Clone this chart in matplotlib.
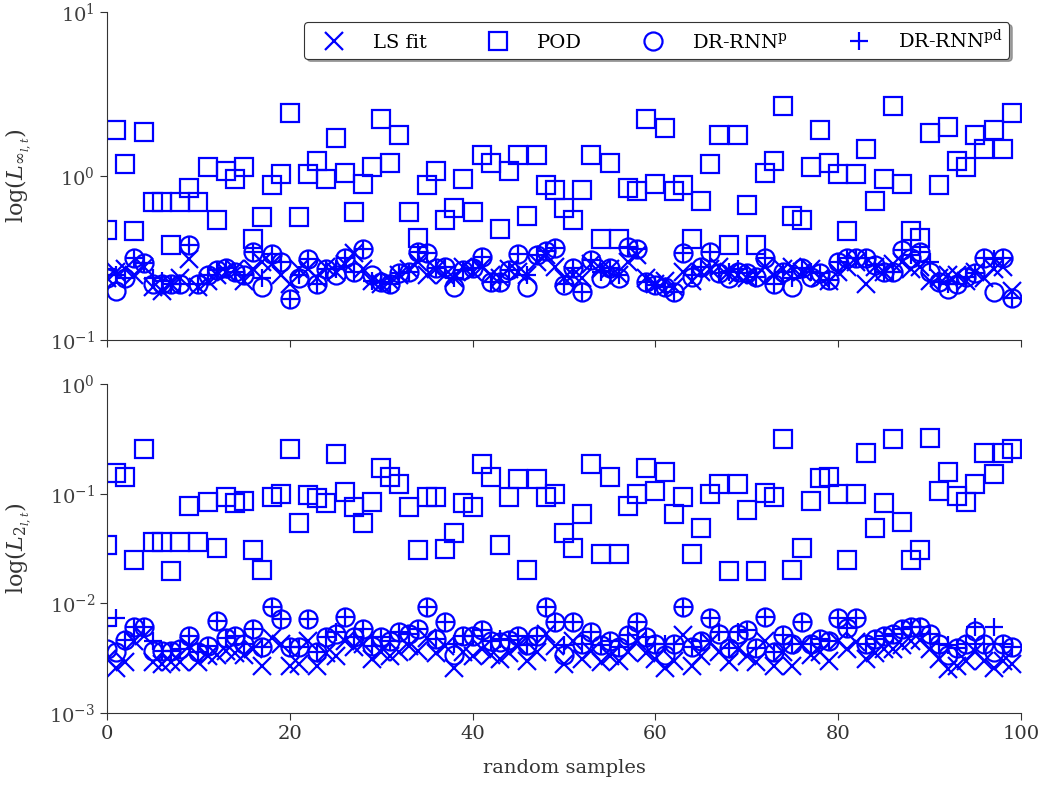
import numpy as np
import matplotlib
matplotlib.use('Agg')
import matplotlib.pyplot as plt

plt.rcParams['font.family'] = 'serif'
plt.rcParams['font.serif'] = ['DejaVu Serif']
plt.rcParams['mathtext.fontset'] = 'dejavuserif'

samples = np.arange(100)

# top panel: log(L_inf)
ls_top = [0.24, 0.26, 0.27, 0.25, 0.28, 0.21, 0.2, 0.22, 0.24, 0.31, 0.21, 0.23, 0.25, 0.26, 0.27, 0.23, 0.27, 0.3, 0.29, 0.25, 0.22, 0.27, 0.27, 0.24, 0.28,
          0.26, 0.29, 0.34, 0.27, 0.23, 0.22, 0.23, 0.25, 0.27, 0.3, 0.25, 0.27, 0.25, 0.24, 0.28, 0.26, 0.28, 0.25, 0.24, 0.27, 0.26, 0.25, 0.3, 0.33, 0.28,
          0.24, 0.25, 0.24, 0.29, 0.27, 0.27, 0.25, 0.3, 0.33, 0.24, 0.22, 0.23, 0.21, 0.26, 0.23, 0.26, 0.27, 0.28, 0.26, 0.25, 0.24, 0.25, 0.28, 0.25, 0.27,
          0.28, 0.26, 0.27, 0.24, 0.23, 0.26, 0.28, 0.3, 0.22, 0.28, 0.26, 0.29, 0.3, 0.27, 0.28, 0.23, 0.24, 0.25, 0.25, 0.23, 0.26, 0.24, 0.27, 0.28, 0.2]
pod_top = [0.47, 1.92, 1.19, 0.46, 1.86, 0.69, 0.69, 0.38, 0.69, 0.84, 0.69, 1.14, 0.54, 1.07, 0.96, 1.13, 0.415, 0.565, 0.88, 1.03, 2.42, 0.56, 1.03, 1.23, 0.96,
           1.7, 1.05, 0.6, 0.89, 1.13, 2.24, 1.2, 1.79, 0.6, 0.42, 0.88, 1.07, 0.54, 0.64, 0.96, 0.6, 1.35, 1.2, 0.475, 1.07, 1.35, 0.57, 1.35, 0.88, 0.82,
           0.64, 0.54, 0.82, 1.34, 0.41, 1.2, 0.41, 0.84, 0.81, 2.24, 0.89, 1.97, 0.81, 0.88, 0.41, 0.7, 1.19, 1.79, 0.38, 1.79, 0.67, 0.38, 1.05, 1.23, 2.67,
           0.57, 0.54, 1.13, 1.91, 1.2, 1.03, 0.465, 1.03, 1.46, 0.7, 0.96, 2.67, 0.89, 0.465, 0.42, 1.83, 0.88, 1.98, 1.23, 1.13, 1.78, 1.46, 1.91, 1.46, 2.42]
p_top = [0.24, 0.2, 0.238, 0.317, 0.293, 0.22, 0.22, 0.22, 0.22, 0.38, 0.22, 0.25, 0.267, 0.273, 0.26, 0.25, 0.342, 0.209, 0.333, 0.3, 0.178, 0.238, 0.312, 0.221, 0.27,
         0.25, 0.317, 0.26, 0.36, 0.25, 0.227, 0.22, 0.255, 0.26, 0.345, 0.337, 0.273, 0.28, 0.21, 0.267, 0.273, 0.32, 0.227, 0.227, 0.267, 0.333, 0.21, 0.33, 0.35, 0.365,
         0.216, 0.273, 0.197, 0.307, 0.24, 0.273, 0.24, 0.37, 0.357, 0.227, 0.216, 0.21, 0.197, 0.337, 0.243, 0.28, 0.345, 0.255, 0.238, 0.26, 0.255, 0.243, 0.315, 0.22, 0.26,
         0.21, 0.273, 0.243, 0.255, 0.232, 0.3, 0.315, 0.315, 0.315, 0.287, 0.26, 0.26, 0.354, 0.315, 0.345, 0.26, 0.227, 0.206, 0.22, 0.243, 0.255, 0.315, 0.197, 0.315, 0.18]
pd_top = [0.27, 0.25, 0.238, 0.317, 0.293, 0.24, 0.23, 0.22, 0.22, 0.38, 0.22, 0.25, 0.267, 0.273, 0.26, 0.25, 0.342, 0.24, 0.333, 0.3, 0.178, 0.25, 0.312, 0.221, 0.27,
          0.27, 0.317, 0.26, 0.36, 0.23, 0.227, 0.22, 0.255, 0.26, 0.345, 0.337, 0.273, 0.28, 0.24, 0.267, 0.273, 0.32, 0.227, 0.227, 0.267, 0.333, 0.25, 0.33, 0.35, 0.365,
          0.22, 0.273, 0.197, 0.307, 0.26, 0.273, 0.25, 0.37, 0.357, 0.227, 0.216, 0.21, 0.197, 0.337, 0.25, 0.28, 0.345, 0.255, 0.26, 0.27, 0.255, 0.243, 0.315, 0.22, 0.26,
          0.24, 0.273, 0.26, 0.255, 0.232, 0.3, 0.315, 0.315, 0.315, 0.287, 0.26, 0.26, 0.354, 0.33, 0.345, 0.3, 0.227, 0.22, 0.22, 0.243, 0.255, 0.315, 0.31, 0.315, 0.18]

# bottom panel: log(L_2)
ls_bot = [0.0031, 0.0026, 0.0029, 0.0045, 0.005, 0.0029, 0.0028, 0.0029, 0.0029, 0.0041, 0.0029, 0.0033, 0.0034, 0.0037, 0.0035, 0.0034, 0.0038, 0.0027, 0.0048, 0.0043, 0.0027, 0.0028, 0.0045, 0.0027, 0.0035,
          0.0033, 0.0045, 0.004, 0.0043, 0.0031, 0.0036, 0.0033, 0.0036, 0.0041, 0.0037, 0.0048, 0.0035, 0.0041, 0.0026, 0.0036, 0.0033, 0.0038, 0.0034, 0.0031, 0.0035, 0.0041, 0.003, 0.0036, 0.0053, 0.0041,
          0.0028, 0.0045, 0.0031, 0.0037, 0.0029, 0.0033, 0.003, 0.0036, 0.0045, 0.0035, 0.0031, 0.0026, 0.003, 0.0052, 0.0027, 0.0033, 0.0044, 0.0036, 0.0029, 0.0038, 0.0033, 0.0029, 0.0045, 0.0027, 0.0036,
          0.0027, 0.0042, 0.0034, 0.0036, 0.003, 0.0045, 0.0038, 0.0044, 0.0031, 0.0035, 0.0038, 0.0038, 0.0042, 0.0045, 0.0046, 0.0038, 0.0031, 0.0025, 0.0027, 0.003, 0.0037, 0.003, 0.0026, 0.003, 0.0028]
pod_bot = [0.034, 0.153, 0.143, 0.025, 0.257, 0.0366, 0.0366, 0.0196, 0.0366, 0.0767, 0.0366, 0.0846, 0.032, 0.093, 0.083, 0.086, 0.031, 0.02, 0.094, 0.099, 0.257, 0.0537, 0.097, 0.092, 0.082,
           0.231, 0.103, 0.075, 0.0545, 0.0846, 0.172, 0.142, 0.122, 0.0757, 0.031, 0.094, 0.093, 0.0316, 0.044, 0.083, 0.0757, 0.185, 0.142, 0.034, 0.093, 0.137, 0.02, 0.137, 0.093, 0.0986,
           0.044, 0.0318, 0.0658, 0.185, 0.028, 0.142, 0.028, 0.0773, 0.1, 0.172, 0.106, 0.158, 0.0658, 0.093, 0.028, 0.0484, 0.0986, 0.123, 0.0196, 0.123, 0.0716, 0.0196, 0.102, 0.094, 0.316,
           0.02, 0.0318, 0.085, 0.138, 0.142, 0.099, 0.025, 0.099, 0.234, 0.0488, 0.083, 0.316, 0.055, 0.025, 0.031, 0.325, 0.106, 0.158, 0.0946, 0.084, 0.122, 0.234, 0.152, 0.234, 0.258]
p_bot = [0.0038, 0.0036, 0.0046, 0.0061, 0.0061, 0.0037, 0.0037, 0.0037, 0.0038, 0.005, 0.0036, 0.0041, 0.0069, 0.0048, 0.005, 0.0043, 0.0058, 0.004, 0.0093, 0.0072, 0.004, 0.004, 0.0072, 0.0036, 0.0049,
         0.0053, 0.0075, 0.0049, 0.0059, 0.0041, 0.0049, 0.0045, 0.0055, 0.0053, 0.0059, 0.0092, 0.0047, 0.0068, 0.0034, 0.005, 0.005, 0.0057, 0.0045, 0.0044, 0.0046, 0.005, 0.0042, 0.005, 0.0093, 0.0068,
         0.0034, 0.0068, 0.0043, 0.0055, 0.0042, 0.0045, 0.004, 0.0051, 0.0068, 0.0049, 0.0043, 0.0034, 0.0043, 0.0093, 0.004, 0.0045, 0.0073, 0.0053, 0.0039, 0.0053, 0.0057, 0.0039, 0.0075, 0.0036, 0.0051,
         0.0043, 0.0068, 0.0043, 0.0047, 0.0045, 0.0073, 0.006, 0.0073, 0.0043, 0.0047, 0.005, 0.0053, 0.0059, 0.0061, 0.0061, 0.0053, 0.0043, 0.0034, 0.0039, 0.0043, 0.0056, 0.0043, 0.0036, 0.0043, 0.004]
pd_bot = [0.0062, 0.0073, 0.0046, 0.0061, 0.0061, 0.0045, 0.0037, 0.0037, 0.0038, 0.005, 0.0036, 0.0041, 0.0069, 0.0048, 0.005, 0.0043, 0.0058, 0.004, 0.0093, 0.0072, 0.004, 0.004, 0.0072, 0.0036, 0.0049,
          0.0055, 0.0075, 0.0049, 0.0059, 0.0041, 0.0049, 0.0045, 0.0055, 0.0053, 0.0059, 0.0092, 0.0047, 0.0068, 0.0043, 0.005, 0.005, 0.0057, 0.0045, 0.0047, 0.0046, 0.005, 0.0042, 0.005, 0.0093, 0.0068,
          0.0042, 0.0068, 0.0043, 0.0055, 0.0042, 0.0045, 0.004, 0.0051, 0.0068, 0.0049, 0.0043, 0.0043, 0.0043, 0.0093, 0.004, 0.0045, 0.0073, 0.0055, 0.0039, 0.0055, 0.0057, 0.0039, 0.0075, 0.0036, 0.0051,
          0.0043, 0.0068, 0.0043, 0.0047, 0.0045, 0.0073, 0.006, 0.0073, 0.0043, 0.0047, 0.005, 0.0053, 0.0059, 0.0061, 0.0061, 0.0053, 0.0043, 0.0042, 0.0039, 0.0043, 0.0061, 0.0043, 0.0061, 0.0043, 0.004]

labels = ['LS fit', 'POD', r'DR-RNN$^{\mathrm{p}}$', r'DR-RNN$^{\mathrm{pd}}$']
blue = '#0000ff'
ms = 13
mew = 1.6

fig = plt.figure(figsize=(10.43, 7.85), dpi=100)
ax1 = fig.add_axes([0.1026, 0.5669, 0.8763, 0.4178])
ax2 = fig.add_axes([0.1026, 0.0917, 0.8763, 0.4190], sharex=ax1)


def draw(ax, ls, pod, p, pd):
    ax.plot(samples, ls, 'x', color=blue, ms=ms, mew=mew, label=labels[0])
    ax.plot(samples, pod, 's', color=blue, ms=ms, mew=mew, mfc='none', label=labels[1])
    ax.plot(samples, p, 'o', color=blue, ms=ms, mew=mew, mfc='none', label=labels[2])
    ax.plot(samples, pd, '+', color=blue, ms=ms, mew=mew, label=labels[3])
    ax.set_yscale('log')
    ax.spines['top'].set_visible(False)
    ax.spines['right'].set_visible(False)
    for s in ['left', 'bottom']:
        ax.spines[s].set_color('0.2')
    ax.tick_params(which='minor', left=False, bottom=False)
    ax.tick_params(colors='0.2', labelsize=14, length=5)
    ax.tick_params(axis='y', labelcolor='0.25')


draw(ax1, ls_top, pod_top, p_top, pd_top)
draw(ax2, ls_bot, pod_bot, p_bot, pd_bot)

ax1.set_ylim(1e-1, 1e1)
ax2.set_ylim(1e-3, 1e0)
ax2.set_xlim(0, 100)
ax1.tick_params(axis='x', labelbottom=False)

ax1.set_ylabel(r'$\log(L_{\infty_{l,t}})$', fontsize=16, color='0.2')
ax2.set_ylabel(r'$\log(L_{2_{l,t}})$', fontsize=16, color='0.2')
ax2.set_xlabel('random samples', fontsize=14, color='0.2', labelpad=12)
ax1.yaxis.set_label_coords(-0.08, 0.5)
ax2.yaxis.set_label_coords(-0.08, 0.5)

leg = ax1.legend(loc='upper right', ncol=4, fontsize=14, shadow=True, fancybox=True,
                 bbox_to_anchor=(0.998, 1.0), columnspacing=2.45, handletextpad=0.8,
                 handlelength=2.4, framealpha=1, edgecolor='0.2', borderpad=0.35)
leg.get_frame().set_linewidth(0.8)

fig.savefig('out.png', dpi=100)
